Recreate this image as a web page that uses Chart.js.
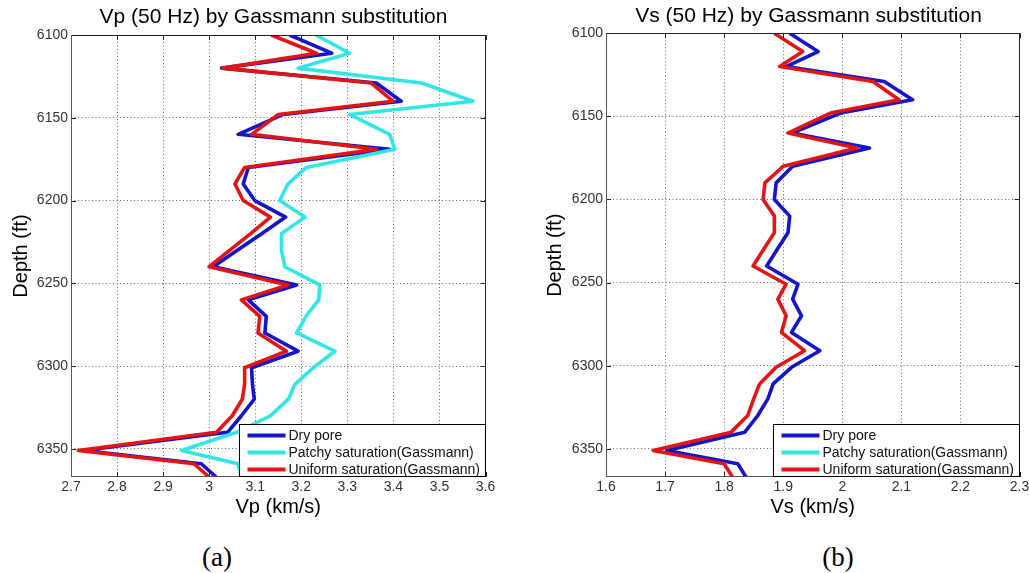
<!DOCTYPE html>
<html><head><meta charset="utf-8">
<script src="https://cdn.jsdelivr.net/npm/chart.js@4.4.1/dist/chart.umd.min.js"></script>
<style>
html,body{margin:0;padding:0;background:#fff;width:1029px;height:573px;overflow:hidden;position:relative}
canvas{position:absolute;top:0}
.cap{position:absolute;font-family:"Liberation Serif","Times New Roman",serif;font-size:27px;color:#000;transform:translate(-50%,-50%);white-space:nowrap;line-height:1}
</style></head><body>
<canvas id="c1" width="547" height="527" style="left:0px"></canvas>
<canvas id="c2" width="549" height="527" style="left:534px"></canvas>
<div class="cap" style="left:217px;top:557px">(a)</div>
<div class="cap" style="left:838px;top:557px">(b)</div>
<script>
// ---- data (depth in ft, velocities in km/s) ----
const depthFt = [6100, 6111, 6120, 6129, 6140, 6148, 6160, 6169, 6180, 6190, 6200, 6210, 6220, 6230, 6240, 6251, 6260, 6270, 6280, 6291, 6301, 6311, 6320, 6330, 6340, 6351, 6359, 6367];

const vpDry     = [3.175, 3.266, 3.027, 3.363, 3.417, 3.161, 3.063, 3.392, 3.085, 3.074, 3.099, 3.166, 3.114, 3.061, 3.009, 3.190, 3.085, 3.124, 3.121, 3.193, 3.092, 3.094, 3.098, 3.070, 3.040, 2.727, 2.983, 3.015];
const vpPatchy  = [3.232, 3.305, 3.193, 3.461, 3.573, 3.305, 3.392, 3.403, 3.211, 3.171, 3.153, 3.208, 3.157, 3.157, 3.164, 3.240, 3.238, 3.210, 3.190, 3.273, 3.226, 3.186, 3.172, 3.133, 3.060, 2.940, 3.063, 3.070];
const vpUniform = [3.135, 3.233, 3.030, 3.352, 3.399, 3.150, 3.092, 3.363, 3.077, 3.056, 3.074, 3.133, 3.090, 3.045, 3.000, 3.171, 3.070, 3.110, 3.106, 3.168, 3.077, 3.077, 3.072, 3.050, 3.016, 2.716, 2.967, 3.000];

const vsDry     = [1.911, 1.959, 1.905, 2.071, 2.119, 1.997, 1.915, 2.046, 1.916, 1.888, 1.885, 1.911, 1.908, 1.890, 1.872, 1.925, 1.916, 1.931, 1.914, 1.962, 1.914, 1.883, 1.874, 1.857, 1.835, 1.703, 1.823, 1.837];
const vsPatchy  = []; // coincides with uniform saturation (hidden beneath it)
const vsUniform = [1.885, 1.933, 1.894, 2.052, 2.096, 1.980, 1.908, 2.025, 1.900, 1.869, 1.866, 1.885, 1.885, 1.867, 1.849, 1.905, 1.891, 1.905, 1.897, 1.936, 1.888, 1.860, 1.850, 1.840, 1.812, 1.680, 1.800, 1.814];

const seriesNames = ['Dry pore', 'Patchy saturation(Gassmann)', 'Uniform saturation(Gassmann)'];
const depthTicks = [6100, 6150, 6200, 6250, 6300, 6350];
const vpTicks = [2.7, 2.8, 2.9, 3, 3.1, 3.2, 3.3, 3.4, 3.5, 3.6];
const vsTicks = [1.6, 1.7, 1.8, 1.9, 2, 2.1, 2.2, 2.3];

const COLORS = ['#1414c8', '#33e6e6', '#e31414'];
const SANS = '"Liberation Sans", Arial, Helvetica, sans-serif';

function pts(vals) { return vals.map((v, i) => ({x: v, y: depthFt[i]})); }

const framePlugin = {
  id: 'frame',
  afterDatasetsDraw(chart) {
    const {ctx, chartArea: a, scales} = chart;
    const xs = scales.x, ys = scales.y;
    ctx.save();
    ctx.lineWidth = 1;
    ctx.strokeStyle = '#222';
    ctx.beginPath();
    xs.ticks.forEach(t => {
      const px = Math.round(xs.getPixelForValue(t.value)) + 0.5;
      ctx.moveTo(px, a.bottom); ctx.lineTo(px, a.bottom - 5);
      ctx.moveTo(px, a.top); ctx.lineTo(px, a.top + 5);
    });
    ys.ticks.forEach(t => {
      const py = Math.round(ys.getPixelForValue(t.value)) + 0.5;
      ctx.moveTo(a.left, py); ctx.lineTo(a.left + 5, py);
      ctx.moveTo(a.right, py); ctx.lineTo(a.right - 5, py);
    });
    ctx.stroke();
    const L = Math.round(a.left) + 0.5, R = Math.round(a.right) - 0.5;
    const T = Math.round(a.top) + 0.5, B = Math.round(a.bottom) - 0.5;
    ctx.strokeStyle = '#222';
    ctx.beginPath(); ctx.moveTo(L, T); ctx.lineTo(R, T); ctx.lineTo(R, B); ctx.stroke();
    ctx.strokeStyle = '#555';
    ctx.beginPath(); ctx.moveTo(L, T); ctx.lineTo(L, B); ctx.lineTo(R, B); ctx.stroke();
    ctx.restore();
  },
  afterDraw(chart) {
    const {ctx, chartArea: a} = chart;
    const w = 247, h = 53.5;
    const x0 = Math.round(a.right - w) + 0.5, y0 = Math.round(a.bottom - h) + 0.5;
    ctx.save();
    ctx.fillStyle = '#fff';
    ctx.fillRect(x0, y0, a.right - x0, a.bottom - y0);
    ctx.strokeStyle = '#000';
    ctx.lineWidth = 1;
    ctx.strokeRect(x0, y0, Math.round(a.right) - 0.5 - x0, Math.round(a.bottom) - 0.5 - y0);
    ctx.font = '14px ' + SANS;
    ctx.textBaseline = 'middle';
    ctx.textAlign = 'left';
    chart.data.datasets.forEach((ds, i) => {
      const yy = y0 + 11 + i * 17;
      ctx.strokeStyle = ds.borderColor;
      ctx.lineWidth = 4;
      ctx.beginPath(); ctx.moveTo(x0 + 8, yy); ctx.lineTo(x0 + 46, yy); ctx.stroke();
      ctx.fillStyle = '#111';
      ctx.fillText(ds.label, x0 + 49, yy + 0.5);
    });
    ctx.restore();
  }
};

function makeChart(id, cfg) {
  const datasets = cfg.series.map((vals, i) => ({
    label: seriesNames[i],
    data: pts(vals),
    borderColor: COLORS[i],
    backgroundColor: COLORS[i],
    borderWidth: 3.6,
    borderJoinStyle: 'round',
    pointRadius: 0,
    pointHoverRadius: 0,
    showLine: true,
    fill: false,
    tension: 0,
    clip: 0,
    order: 3 - i
  }));
  return new Chart(document.getElementById(id), {
    type: 'scatter',
    data: {datasets},
    plugins: [framePlugin],
    options: {
      responsive: false,
      animation: false,
      events: [],
      layout: {padding: {left: 0, right: 0, top: 0, bottom: 0}},
      plugins: {
        legend: {display: false},
        tooltip: {enabled: false},
        title: {
          display: true,
          text: cfg.title,
          color: '#000',
          font: {family: SANS, size: 21, weight: 'normal'},
          padding: {top: cfg.titleTop, bottom: cfg.titleBottom}
        }
      },
      scales: {
        x: {
          type: 'linear', position: 'bottom',
          min: cfg.xmin, max: cfg.xmax,
          afterBuildTicks: s => { s.ticks = cfg.xticks.map(v => ({value: v})); },
          afterFit: s => { s.height = 50; },
          ticks: {color: '#333', padding: 2, font: {family: SANS, size: 14}, maxRotation: 0, autoSkip: false,
                  callback: v => String(v)},
          grid: {color: '#6a6a6a', lineWidth: 1, drawTicks: false},
          border: {display: false, dash: [1, 2.5]},
          title: {display: true, text: cfg.xlabel, color: '#000', font: {family: SANS, size: 20}, padding: {top: 0, bottom: 7.5}}
        },
        y: {
          type: 'linear', position: 'left', reverse: true,
          min: 6100, max: 6367,
          afterBuildTicks: s => { s.ticks = depthTicks.map(v => ({value: v})); },
          afterFit: s => { s.width = cfg.yw; },
          ticks: {color: '#333', padding: 3, font: {family: SANS, size: 14}, autoSkip: false,
                  callback: v => String(v)},
          grid: {color: '#6a6a6a', lineWidth: 1, drawTicks: false},
          border: {display: false, dash: [1, 2.5]},
          title: {display: true, text: 'Depth (ft)', color: '#000', font: {family: SANS, size: 20}, padding: {top: cfg.ytp, bottom: 0}}
        },
        pad: {
          type: 'linear', position: 'right', display: true,
          grid: {display: false, drawTicks: false},
          ticks: {display: false},
          border: {display: false},
          afterFit: s => { s.width = cfg.rw; }
        }
      }
    }
  });
}

makeChart('c1', {
  series: [vpDry, vpPatchy, vpUniform],
  title: 'Vp (50 Hz) by Gassmann substitution',
  xlabel: 'Vp (km/s)', xmin: 2.7, xmax: 3.6, xticks: vpTicks,
  titleTop: 5, titleBottom: 4.8, yw: 71, rw: 61.5, ytp: 9.7
});
makeChart('c2', {
  series: [vsDry, vsPatchy, vsUniform],
  title: 'Vs (50 Hz) by Gassmann substitution',
  xlabel: 'Vs (km/s)', xmin: 1.6, xmax: 2.3, xticks: vsTicks,
  titleTop: 3.2, titleBottom: 4.9, yw: 72, rw: 63.5, ytp: 9
});
</script>
</body></html>
